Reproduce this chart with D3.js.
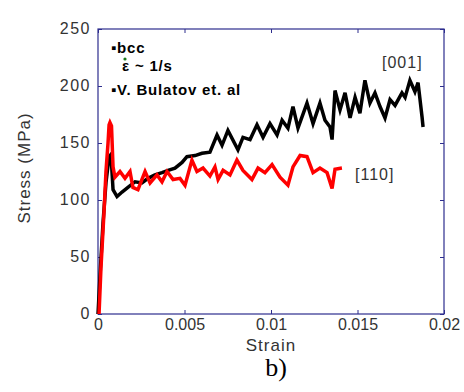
<!DOCTYPE html>
<html>
<head>
<meta charset="utf-8">
<script src="https://cdn.jsdelivr.net/npm/d3@7"></script>
<style>
  body { margin: 0; background: #fff; }
  svg { display: block; }
</style>
</head>
<body>
<svg id="chart" width="464" height="392"></svg>
<script>
// [001] curve (black)
const strain001 = [0, 0.00014, 0.00029, 0.00046, 0.00064, 0.00075, 0.00087, 0.0011, 0.00139, 0.00173,
  0.00214, 0.00254, 0.00289, 0.00329, 0.0037, 0.00405, 0.00445, 0.00486, 0.00514, 0.00561,
  0.00601, 0.00647, 0.00688, 0.00717, 0.00751, 0.00809, 0.00838, 0.00879, 0.00919, 0.00954,
  0.00994, 0.01035, 0.01064, 0.01098, 0.01127, 0.01156, 0.01208, 0.01243, 0.01283, 0.01312,
  0.01341, 0.01353, 0.0137, 0.01399, 0.01428, 0.01457, 0.01486, 0.01514, 0.01543, 0.01572,
  0.01601, 0.0163, 0.01659, 0.01688, 0.01717, 0.01757, 0.01775, 0.01803, 0.01832, 0.0185,
  0.01873, 0.01879]
const stress001 = [0, 40, 80, 115, 138, 140, 109, 103, 107, 111,
  116, 115, 119, 122, 124, 126, 128, 133, 138, 139,
  141, 142, 157, 148, 161, 144, 155, 153, 166, 155,
  167, 157, 170, 163, 182, 163, 185, 167, 185, 170,
  164, 153, 196, 179, 194, 172, 190, 176, 205, 185,
  194, 182, 172, 188, 183, 194, 190, 205, 195, 203,
  173, 164]

// [110] curve (red)
const strain110 = [0.00006, 0.00017, 0.00035, 0.00046, 0.00058, 0.00064, 0.00069, 0.00078, 0.00087, 0.00098,
  0.00127, 0.00156, 0.00185, 0.00202, 0.00231, 0.00272, 0.00301, 0.00341, 0.0037, 0.00399,
  0.00434, 0.00474, 0.00503, 0.00543, 0.00572, 0.00607, 0.00647, 0.00676, 0.00694, 0.00723,
  0.00763, 0.00803, 0.00838, 0.0089, 0.00925, 0.00965, 0.01006, 0.01052, 0.01098, 0.01127,
  0.01168, 0.01208, 0.01243, 0.01283, 0.01324, 0.01353, 0.0137, 0.0141]
const stress110 = [0, 40, 90, 125, 150, 166, 168, 165, 129, 120,
  125, 119, 125, 111, 109, 125, 115, 122, 116, 125,
  118, 119, 113, 135, 125, 128, 121, 129, 118, 126,
  122, 135, 126, 118, 128, 124, 131, 120, 113, 129,
  139, 138, 124, 128, 124, 110, 127, 128]

const xTicks = [0, 0.005, 0.01, 0.015, 0.02]
const xTickLabels = ["0", "0.005", "0.01", "0.015", "0.02"]
const yTicks = [0, 50, 100, 150, 200, 250]

const margin = {top: 29, right: 20, bottom: 78, left: 98}
const W = 464, H = 392
const w = W - margin.left - margin.right, h = H - margin.top - margin.bottom

const svg = d3.select("#chart")
const g = svg.append("g").attr("transform", `translate(${margin.left},${margin.top})`)

const x = d3.scaleLinear().domain([0, 0.02]).range([0, w])
const y = d3.scaleLinear().domain([0, 250]).range([h, 0])

const boxColor = "#2e2e8e"
const labelColor = "#333"
const font = "Liberation Sans, Arial, sans-serif"

// axes with inward ticks
const axisB = g.append("g").attr("transform", `translate(0,${h})`)
  .call(d3.axisBottom(x).tickValues(xTicks).tickFormat((d, i) => xTickLabels[i]).tickSize(-4).tickPadding(5))
const axisT = g.append("g")
  .call(d3.axisTop(x).tickValues(xTicks).tickFormat("").tickSize(-4))
const axisL = g.append("g")
  .call(d3.axisLeft(y).tickValues(yTicks).tickSize(-4).tickPadding(7))
const axisR = g.append("g").attr("transform", `translate(${w},0)`)
  .call(d3.axisRight(y).tickValues(yTicks).tickFormat("").tickSize(-4))

for (const a of [axisB, axisT, axisL, axisR]) {
  a.select(".domain").remove()
  a.selectAll(".tick line").attr("stroke", boxColor)
  a.selectAll("text")
    .attr("fill", labelColor)
    .style("font-family", font)
    .style("font-size", "16px")
}
axisL.selectAll("text").style("letter-spacing", "1.5px").attr("dy", "0.3em")

g.append("rect")
  .attr("width", w).attr("height", h)
  .attr("fill", "none")
  .attr("stroke", boxColor)
  .attr("stroke-width", 1.2)

// curves
const line = d3.line().x(d => x(d[0])).y(d => y(d[1]))
const data001 = strain001.map((s, i) => [s, stress001[i]])
const data110 = strain110.map((s, i) => [s, stress110[i]])

g.append("path").datum(data001)
  .attr("d", line)
  .attr("fill", "none")
  .attr("stroke", "#000")
  .attr("stroke-width", 3.5)
  .attr("stroke-linejoin", "miter")

g.append("path").datum(data110)
  .attr("d", line)
  .attr("fill", "none")
  .attr("stroke", "#ff0000")
  .attr("stroke-width", 3.5)
  .attr("stroke-linejoin", "miter")

// series labels
svg.append("text").attr("x", 382).attr("y", 68)
  .style("font-family", font).style("font-size", "16px").style("letter-spacing", "1px")
  .attr("fill", labelColor).text("[001]")
svg.append("text").attr("x", 355).attr("y", 180)
  .style("font-family", font).style("font-size", "16px").style("letter-spacing", "1px")
  .attr("fill", labelColor).text("[110]")

// legend notes
const notes = svg.append("g")
  .style("font-family", font).style("font-size", "15px").style("font-weight", "bold")
  .style("letter-spacing", "0.8px")
notes.append("text").attr("x", 111).attr("y", 53).text("▪bcc")
notes.append("text").attr("x", 122).attr("y", 71).text("ε ~ 1/s")
notes.append("circle").attr("cx", 125).attr("cy", 59).attr("r", 1.6).attr("fill", "#1a7a1a")
notes.append("text").attr("x", 111).attr("y", 95).text("▪V. Bulatov et. al")

// axis titles
svg.append("text")
  .attr("x", margin.left + w / 2).attr("y", 351)
  .attr("text-anchor", "middle")
  .style("font-family", font).style("font-size", "17px").style("letter-spacing", "1px")
  .attr("fill", labelColor).text("Strain")

svg.append("text")
  .attr("transform", `translate(30,168) rotate(-90)`)
  .attr("text-anchor", "middle")
  .style("font-family", font).style("font-size", "17px").style("letter-spacing", "1px")
  .attr("fill", labelColor).text("Stress (MPa)")

svg.append("text")
  .attr("x", 276).attr("y", 376)
  .attr("text-anchor", "middle")
  .style("font-family", "Liberation Serif, Times New Roman, serif").style("font-size", "26px")
  .attr("fill", "#000").text("b)")
</script>
</body>
</html>
